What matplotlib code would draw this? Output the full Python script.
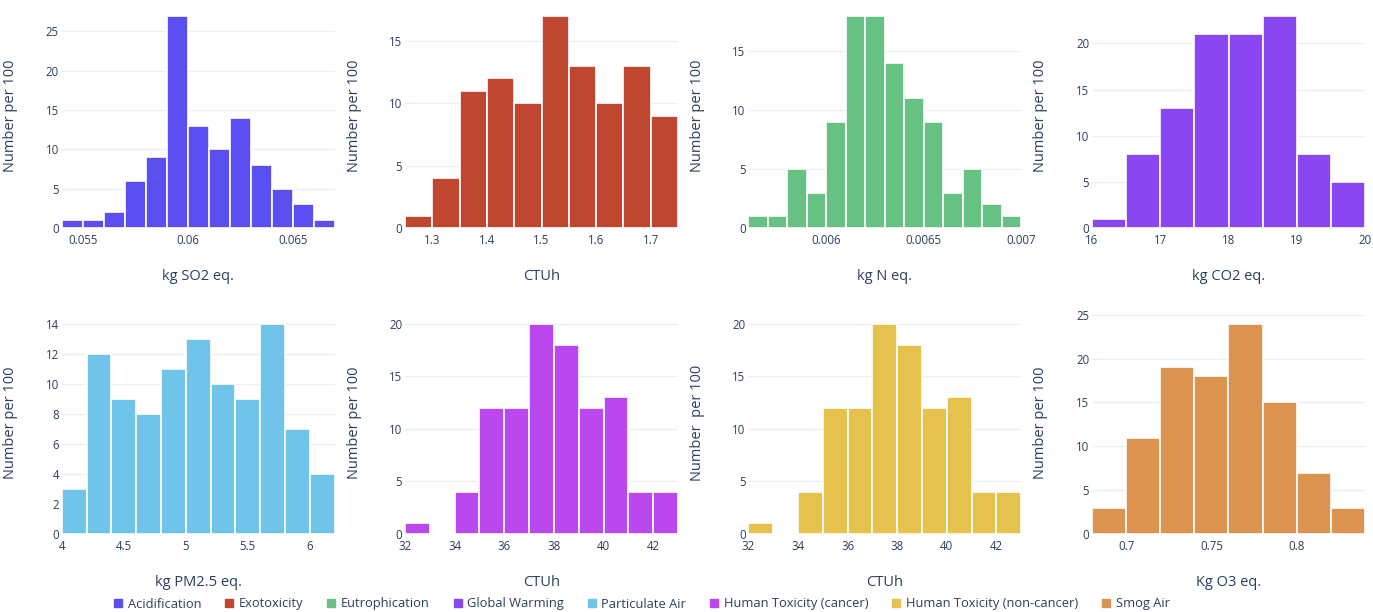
#!/usr/bin/env python3

import matplotlib
matplotlib.use("Agg")
import matplotlib.pyplot as plt
from matplotlib.lines import Line2D
from matplotlib.ticker import FuncFormatter
import numpy as np

# histogram counts (per 100 runs), bin start and bin width for each impact category
categories = ["Acidification", "Exotoxicity", "Eutrophication", "Global Warming",
              "Particulate Air", "Human Toxicity (cancer)", "Human Toxicity (non-cancer)", "Smog Air"]
colors = ["#5b4ff2", "#c0472f", "#66c183", "#8a46f1", "#71c4e9", "#bb47ef", "#e5c24d", "#dc9350"]
units = ["kg SO2 eq.", "CTUh", "kg N eq.", "kg CO2 eq.",
         "kg PM2.5 eq.", "CTUh", "CTUh", "Kg O3 eq."]

acid_counts = [1, 1, 2, 6, 9, 27, 13, 10, 14, 8, 5, 3, 1]
exo_counts = [1, 4, 11, 12, 10, 17, 13, 10, 13, 9]
eutro_counts = [1, 1, 5, 3, 9, 18, 18, 14, 11, 9, 3, 5, 2, 1]
gw_counts = [1, 8, 13, 21, 21, 23, 8, 5]
pm_counts = [3, 12, 9, 8, 11, 13, 10, 9, 14, 7, 4]
htc_counts = [1, 0, 4, 12, 12, 20, 18, 12, 13, 4, 4]
htnc_counts = [1, 0, 4, 12, 12, 20, 18, 12, 13, 4, 4]
smog_counts = [3, 11, 19, 18, 24, 15, 7, 3]

all_counts = [acid_counts, exo_counts, eutro_counts, gw_counts,
              pm_counts, htc_counts, htnc_counts, smog_counts]
bin_starts = [0.054, 1.25, 0.0056, 16.0, 4.0, 32.0, 32.0, 0.68]
bin_widths = [0.001, 0.05, 0.0001, 0.5, 0.2, 1.0, 1.0, 0.02]

xticks = [[0.055, 0.06, 0.065],
          [1.3, 1.4, 1.5, 1.6, 1.7],
          [0.006, 0.0065, 0.007],
          [16, 17, 18, 19, 20],
          [4, 4.5, 5, 5.5, 6],
          [32, 34, 36, 38, 40, 42],
          [32, 34, 36, 38, 40, 42],
          [0.7, 0.75, 0.8]]
ystep = [5, 5, 5, 5, 2, 5, 5, 5]
ylabels = ["Number per 100"] * 6 + ["Number  per 100", "Number per 100"]

TEXT = "#2a3f5f"
GRID = "#ebf0f8"

plt.rcParams["font.family"] = ["Open Sans", "DejaVu Sans"]

W, H = 1373, 612
fig = plt.figure(figsize=(W / 100, H / 100), dpi=100)

col_left = [61.7, 405.0, 748.3, 1092.0]
col_w = 273.0
row_top = [4.0, 312.0]
row_h = [224.0, 222.0]

for i, counts in enumerate(all_counts):
    r, c = divmod(i, 4)
    ax = fig.add_axes([col_left[c] / W, 1 - (row_top[r] + row_h[r]) / H,
                       col_w / W, row_h[r] / H])
    n = len(counts)
    lefts = bin_starts[i] + bin_widths[i] * np.arange(n)
    ax.bar(lefts, counts, width=bin_widths[i], align="edge",
           color=colors[i], edgecolor="white", linewidth=1.2, zorder=2)
    ax.set_xlim(lefts[0], lefts[-1] + bin_widths[i])
    ymax = max(counts) * 1.055
    ax.set_ylim(0, ymax)
    ax.set_yticks(np.arange(0, ymax, ystep[i]))
    ax.set_xticks(xticks[i])
    ax.xaxis.set_major_formatter(FuncFormatter(lambda v, p: f"{v:g}"))
    ax.grid(axis="y", color=GRID, linewidth=1, zorder=0)
    for s in ax.spines.values():
        s.set_visible(False)
    ax.tick_params(length=0, labelsize=8.3, colors=TEXT)
    ax.tick_params(axis="x", pad=4)
    ax.tick_params(axis="y", pad=2)
    ax.set_xlabel(units[i], fontsize=10.5, color=TEXT)
    ax.set_ylabel(ylabels[i], fontsize=10.5, color=TEXT)
    ax.xaxis.set_label_coords(0.5, -41 / row_h[r])
    ax.yaxis.set_label_coords(-43.5 / col_w, 0.5)

handles = [Line2D([0], [0], marker="s", linestyle="none", markersize=6,
                  markerfacecolor=col, markeredgecolor=col) for col in colors]
fig.legend(handles, categories, loc="center", bbox_to_anchor=(642 / W, 8 / H),
           ncol=8, frameon=False, fontsize=9.3, labelcolor=TEXT,
           handlelength=0.6, handletextpad=0.45, columnspacing=1.85, borderpad=0)

fig.savefig("out.png", dpi=100, facecolor="white")
